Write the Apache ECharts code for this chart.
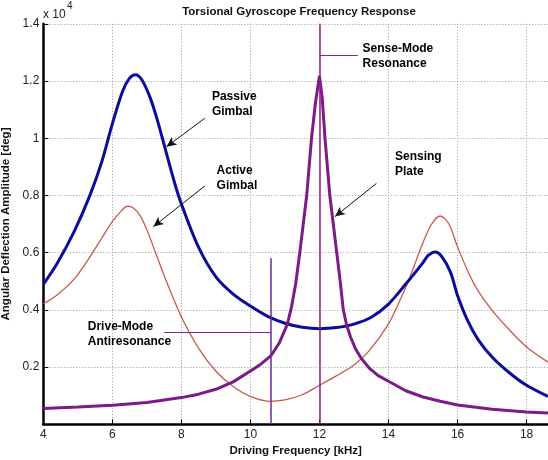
<!DOCTYPE html>
<html>
<head>
<meta charset="utf-8">
<script src="https://cdn.jsdelivr.net/npm/echarts@6/dist/echarts.min.js"></script>
<style>
html,body{margin:0;padding:0;background:#fff}
#main{width:548px;height:460px}
</style>
</head>
<body>
<div id="main"></div>
<script type="text/javascript">
// amplitudes are in units of 1e4 deg (see "x 10^4" on the axis)
var passiveFreq = [4.0, 4.4, 4.9, 5.35, 5.7, 6.0, 6.3, 6.5, 6.67, 6.85, 7.1, 7.3, 7.55, 7.8, 8.0, 8.5, 9.0, 9.5, 10.0, 10.5, 11.0, 11.5, 12.0, 12.5, 13.0, 13.5, 14.0, 14.5, 15.0, 15.15, 15.35, 15.55, 15.8, 16.0, 16.3, 16.6, 17.0, 17.5, 18.0, 18.62];
var passiveAmp  = [0.489, 0.562, 0.675, 0.80, 0.92, 1.05, 1.165, 1.21, 1.222, 1.205, 1.14, 1.065, 0.955, 0.845, 0.77, 0.618, 0.515, 0.455, 0.413, 0.377, 0.353, 0.339, 0.334, 0.338, 0.35, 0.374, 0.42, 0.49, 0.565, 0.59, 0.602, 0.585, 0.53, 0.45, 0.36, 0.295, 0.235, 0.18, 0.136, 0.097];

var activeFreq = [4.0, 4.4, 4.9, 5.35, 5.7, 6.0, 6.2, 6.44, 6.6, 6.8, 7.0, 7.25, 7.5, 7.75, 8.0, 8.5, 9.0, 9.5, 10.0, 10.55, 11.0, 11.5, 12.0, 12.5, 13.0, 13.45, 14.0, 14.3, 14.6, 15.0, 15.25, 15.5, 15.75, 16.0, 16.33, 16.6, 17.0, 17.5, 18.0, 18.62];
var activeAmp  = [0.421, 0.452, 0.508, 0.585, 0.652, 0.708, 0.738, 0.762, 0.757, 0.73, 0.68, 0.60, 0.52, 0.445, 0.375, 0.265, 0.185, 0.132, 0.097, 0.08, 0.085, 0.103, 0.136, 0.17, 0.207, 0.258, 0.351, 0.425, 0.508, 0.635, 0.70, 0.728, 0.70, 0.62, 0.526, 0.465, 0.398, 0.33, 0.27, 0.217];

var plateFreq = [4.0, 5.0, 6.0, 7.0, 8.0, 8.5, 9.0, 9.5, 10.0, 10.3, 10.6, 10.84, 11.07, 11.19, 11.31, 11.43, 11.53, 11.63, 11.7, 11.77, 11.88, 12.0, 12.08, 12.16, 12.23, 12.3, 12.4, 12.5, 12.6, 12.69, 12.79, 12.9, 13.05, 13.2, 13.45, 13.7, 14.0, 14.5, 15.0, 15.5, 16.0, 17.0, 18.0, 18.62];
var plateAmp  = [0.055, 0.06, 0.066, 0.076, 0.093, 0.105, 0.122, 0.148, 0.186, 0.21, 0.24, 0.285, 0.35, 0.41, 0.49, 0.60, 0.70, 0.80, 0.90, 1.0, 1.12, 1.218, 1.14, 1.0, 0.90, 0.80, 0.70, 0.60, 0.50, 0.40, 0.345, 0.305, 0.262, 0.232, 0.195, 0.17, 0.15, 0.117, 0.095, 0.08, 0.067, 0.052, 0.043, 0.039];

// marker lines for the two modes
var senseModeFreq = 12.0;
var driveModeFreq = 10.6;
var driveModeTop = 0.58;

var FONT = "'Liberation Sans', Arial, sans-serif";

function pairs(xs, ys) {
  return xs.map(function (x, i) { return [x, ys[i]]; });
}

// text note anchored at a data point (left edge, vertical middle)
function note(x, y, text) {
  return {
    coord: [x, y],
    symbol: 'circle',
    symbolSize: 0.1,
    itemStyle: { color: 'transparent' },
    label: {
      show: true, position: [0, 0], align: 'left', verticalAlign: 'middle',
      formatter: text, color: '#000', fontWeight: 'bold', fontSize: 12,
      lineHeight: 15, fontFamily: FONT
    }
  };
}

function seg(x1, y1, x2, y2) {
  return [{ coord: [x1, y1] }, { coord: [x2, y2] }];
}

var chart = echarts.init(document.getElementById('main'));

var option = {
  animation: false,
  backgroundColor: '#fff',
  title: {
    text: 'Torsional Gyroscope Frequency Response',
    left: 294, top: 1, textAlign: 'center',
    textStyle: { fontSize: 11.5, fontWeight: 'bold', color: '#111', fontFamily: FONT }
  },
  grid: { left: 43.3, right: 0, top: 23.8, bottom: 35.8, outerBoundsMode: 'none' },
  graphic: [
    { type: 'text', left: 43, top: 9, style: { text: 'x 10', fill: '#222', font: '12px ' + FONT } },
    { type: 'text', left: 67, top: 1, style: { text: '4', fill: '#222', font: '10px ' + FONT } }
  ],
  xAxis: {
    type: 'value', min: 4, max: 18.62, interval: 2,
    name: 'Driving Frequency [kHz]', nameLocation: 'middle', nameGap: 17,
    nameTextStyle: { fontWeight: 'bold', fontSize: 11.5, color: '#111', fontFamily: FONT },
    axisLine: { onZero: false, lineStyle: { color: '#000', width: 2.5 } },
    axisTick: { inside: true, length: 5, lineStyle: { color: '#000' } },
    axisLabel: {
      margin: 4, color: '#222', fontSize: 12, fontFamily: FONT,
      formatter: function (v) { return Math.abs(v % 2) < 1e-6 ? String(v) : ''; }
    },
    splitLine: { show: true, lineStyle: { type: [1, 2], color: '#999' } }
  },
  yAxis: {
    type: 'value', min: 0, max: 1.4, interval: 0.2,
    name: 'Angular Deflection Amplitude [deg]', nameLocation: 'middle', nameGap: 20,
    nameTextStyle: { fontWeight: 'bold', fontSize: 11.5, color: '#111', fontFamily: FONT },
    axisLine: { show: true, lineStyle: { color: '#000', width: 2.5 } },
    axisTick: { show: true, inside: true, length: 5, lineStyle: { color: '#000' } },
    axisLabel: {
      margin: 4, color: '#222', fontSize: 12, fontFamily: FONT,
      formatter: function (v) { return v === 0 ? '' : String(Math.round(v * 10) / 10); }
    },
    splitLine: { show: true, lineStyle: { type: [1, 2], color: '#999' } }
  },
  series: [
    {
      name: 'Active Gimbal', type: 'line', showSymbol: false, smooth: 0.3,
      data: pairs(activeFreq, activeAmp),
      lineStyle: { color: '#c8584a', width: 1.3 }
    },
    {
      name: 'Passive Gimbal', type: 'line', showSymbol: false, smooth: 0.3,
      data: pairs(passiveFreq, passiveAmp),
      lineStyle: { color: '#0c0c9c', width: 3 },
      // annotation arrows
      markLine: {
        silent: true, symbol: ['none', 'arrow'], symbolSize: [7, 10],
        label: { show: false },
        lineStyle: { color: '#111', width: 1, type: 'solid' },
        data: [
          seg(8.68, 1.07, 7.57, 0.97),
          seg(8.68, 0.833, 7.19, 0.691),
          seg(13.65, 0.842, 12.45, 0.726)
        ]
      },
      markPoint: {
        silent: true,
        data: [
          note(8.885, 1.119, 'Passive\nGimbal'),
          note(9.02, 0.861, 'Active\nGimbal'),
          note(14.19, 0.909, 'Sensing\nPlate'),
          note(13.25, 1.287, 'Sense-Mode\nResonance'),
          note(5.29, 0.315, 'Drive-Mode\nAntiresonance')
        ]
      }
    },
    {
      name: 'Sensing Plate', type: 'line', showSymbol: false, smooth: false,
      data: pairs(plateFreq, plateAmp),
      lineStyle: { color: '#7b1a88', width: 3 },
      markLine: {
        silent: true, symbol: ['none', 'none'],
        label: { show: false },
        data: [
          [{ coord: [senseModeFreq, 0], lineStyle: { color: '#9a1a7c', width: 1.5, type: 'solid' } }, { coord: [senseModeFreq, 1.4] }],
          [{ coord: [senseModeFreq, 1.291], lineStyle: { color: '#9a1a7c', width: 1, type: 'solid' } }, { coord: [13.11, 1.291] }],
          [{ coord: [driveModeFreq, 0], lineStyle: { color: '#7028a0', width: 1.5, type: 'solid' } }, { coord: [driveModeFreq, driveModeTop] }],
          [{ coord: [7.5, 0.323], lineStyle: { color: '#7028a0', width: 1, type: 'solid' } }, { coord: [driveModeFreq, 0.323] }]
        ]
      }
    }
  ]
};

chart.setOption(option);
</script>
</body>
</html>
